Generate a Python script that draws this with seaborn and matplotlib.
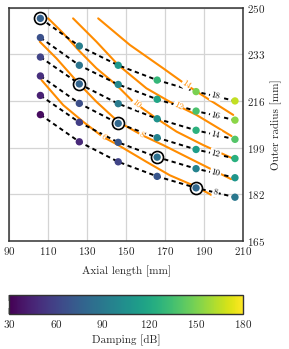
import numpy as np
import pandas as pd
import matplotlib
matplotlib.use("Agg")
import matplotlib.pyplot as plt
import seaborn as sns

# measured designs: axial length [mm] x outer radius [mm], one row per dashed line
axial = [106, 126, 146, 166, 186, 206]
levels = [18, 16, 14, 12, 10, 8]
radius = {
    18: [246.1, 236.0, 229.0, 223.6, 219.4, 216.0],
    16: [239.1, 229.0, 222.0, 216.6, 212.3, 209.0],
    14: [232.0, 222.2, 215.0, 209.5, 205.3, 202.0],
    12: [225.1, 215.1, 207.8, 202.6, 198.3, 195.0],
    10: [218.0, 208.2, 200.9, 195.5, 191.3, 188.0],
    8:  [211.0, 201.1, 193.8, 188.5, 184.3, 180.9],
}
damping = {
    18: [76, 94, 110, 130, 150, 166],
    16: [67, 88, 100, 118, 137, 154],
    14: [60, 78, 92, 106, 126, 140],
    12: [50, 66, 80, 97, 113, 125],
    10: [44, 58, 70, 85, 97, 108],
    8:  [35, 47, 60, 70, 80, 90],
}
# best design on each column (circled)
optimum = [(106, 18), (126, 14), (146, 12), (166, 10), (186, 8)]

# orange iso-lines
orange_levels = [14, 12, 10, 8, 6]
orange_x = {
    14: [135.7, 152.0, 169.1, 181.1, 193.1, 205.1],
    12: [122.8, 134.8, 146.0, 160.5, 172.5, 186.2, 204.2],
    10: [110.0, 117.7, 126.3, 134.8, 145.1, 153.7, 165.7, 176.0, 189.7, 204.0],
    8:  [105.7, 114.3, 125.9, 134.8, 146.0, 158.3, 169.1, 186.2, 204.0],
    6:  [106.6, 117.7, 128.0, 137.9, 146.0, 160.5, 172.5, 186.2, 195.7],
}
orange_y = {
    14: [246.1, 236.4, 227.9, 221.8, 216.3, 210.9],
    12: [246.1, 237.6, 229.1, 220.6, 215.7, 210.9, 203.2],
    10: [246.1, 240.7, 234.0, 227.9, 221.8, 215.7, 209.6, 204.8, 199.9, 195.3],
    8:  [237.6, 231.5, 222.2, 215.7, 208.4, 203.5, 199.9, 193.8, 187.5],
    6:  [223.6, 214.5, 208.4, 203.0, 199.9, 193.8, 188.9, 184.7, 181.0],
}
orange_label_x = {14: 181.0, 12: 176.8, 10: 155.4, 8: 158.0, 6: 138.3}
orange_label_rot = {14: -33, 12: -27, 10: -38, 8: -27, 6: -33}

rows = []
for lv in levels:
    for a, r, d in zip(axial, radius[lv], damping[lv]):
        rows.append(dict(level=lv, axial=a, radius=r, damping=d))
df = pd.DataFrame(rows)
opt = df.set_index(["axial", "level"]).loc[optimum].reset_index()

sns.set_theme(style="whitegrid")
plt.rcParams["font.family"] = ["cmr10", "DejaVu Serif"]
plt.rcParams["axes.formatter.use_mathtext"] = True
plt.rcParams["mathtext.fontset"] = "cm"

fig = plt.figure(figsize=(2.89, 3.49), dpi=100)
ax = fig.add_axes([0.032, 0.310, 0.808, 0.668])
cax = fig.add_axes([0.032, 0.100, 0.808, 0.056])

orange = "#ff8c00"
for lv in orange_levels:
    ax.plot(orange_x[lv], orange_y[lv], color=orange, lw=1.5, zorder=2)
    lx = orange_label_x[lv]
    ly = np.interp(lx, orange_x[lv], orange_y[lv])
    ax.text(lx, ly, str(lv), color=orange, fontsize=6.5, ha="center", va="center",
            rotation=orange_label_rot[lv], zorder=5,
            bbox=dict(boxstyle="square,pad=0.05", fc="white", ec="none"))

sns.lineplot(data=df, x="axial", y="radius", units="level", estimator=None,
             color="black", lw=1.4, dashes=False, ax=ax, zorder=4, sort=False,
             linestyle=(0, (2.2, 1.8)))
for lv in levels:
    lx = (axial[-2] + axial[-1]) / 2
    ly = (radius[lv][-2] + radius[lv][-1]) / 2
    ax.text(lx, ly, str(lv), color="black", fontsize=6.5, ha="center", va="center",
            rotation=-13, zorder=5,
            bbox=dict(boxstyle="square,pad=0.12", fc="white", ec="none"))

ax.scatter(opt["axial"], opt["radius"], s=75, facecolor="white", edgecolor="black",
           lw=1.2, zorder=6)
sns.scatterplot(data=df, x="axial", y="radius", hue="damping", palette="viridis",
                hue_norm=(30, 180), s=28, edgecolor="none", legend=False, ax=ax, zorder=7)

ax.set_xlim(90, 210)
ax.set_ylim(165, 250)
ax.set_xticks(range(90, 211, 20))
ax.set_yticks([165, 182, 199, 216, 233, 250])
ax.yaxis.tick_right()
ax.yaxis.set_label_position("right")
ax.set_xlabel("Axial length [mm]", fontsize=8, labelpad=6)
ax.set_ylabel("Outer radius [mm]", fontsize=8, labelpad=4)
ax.tick_params(labelsize=8, length=0, pad=3)
ax.grid(True, color="#d4d4d4", lw=0.9)
for sp in ax.spines.values():
    sp.set_color("#333333")
    sp.set_linewidth(1.1)

sm = plt.cm.ScalarMappable(cmap="viridis", norm=plt.Normalize(30, 180))
cb = fig.colorbar(sm, cax=cax, orientation="horizontal")
cb.set_ticks([30, 60, 90, 120, 150, 180])
cb.ax.tick_params(labelsize=8, direction="in", length=4, color="#aaaaaa", pad=3,
                  top=True)
cb.outline.set_edgecolor("#333333")
cb.outline.set_linewidth(1.0)
cb.set_label("Damping [dB]", fontsize=8, labelpad=3)

fig.savefig("out.png", dpi=100)
